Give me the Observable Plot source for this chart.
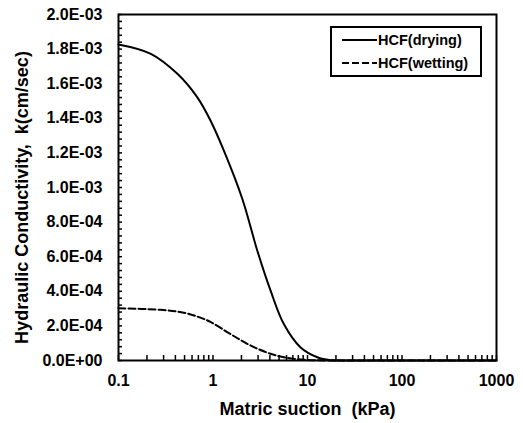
<!DOCTYPE html>
<html>
<head>
<meta charset="utf-8">
<script src="https://cdn.jsdelivr.net/npm/d3@7"></script>
<script src="https://cdn.jsdelivr.net/npm/@observablehq/plot@0.6"></script>
<style>
  html, body { margin: 0; padding: 0; background: #fff; }
  #wrap { position: relative; width: 523px; height: 423px; font-family: "Liberation Sans", Arial, sans-serif; }
  #legend { position: absolute; left: 330px; top: 26px; width: 148px; height: 47px; border: 2px solid #000; background: #fff; }
  .row { position: absolute; left: 10px; height: 20px; display: flex; align-items: center; font-weight: bold; font-size: 14.5px; color: #000; white-space: nowrap; }
  .row svg { margin-right: 1px; }
</style>
</head>
<body>
<div id="wrap"></div>
<script>
// Drying HCF: matric suction (kPa) and k (cm/sec)
const dryingSuction = [0.1, 0.22, 0.42, 0.68, 0.94, 1.3, 2.04, 2.94, 4.06, 5.6, 8.4, 12.7, 17.5, 25, 100, 1000];
const dryingK = [1.827e-3, 1.773e-3, 1.657e-3, 1.522e-3, 1.387e-3, 1.214e-3, 0.935e-3, 0.636e-3, 0.405e-3, 0.212e-3, 0.077e-3, 0.019e-3, 0.002e-3, 0, 0, 0];
// Wetting HCF
const wettingSuction = [0.1, 0.28, 0.49, 0.7, 0.94, 1.53, 2.49, 4.06, 6.1, 10, 20, 100, 1000];
const wettingK = [0.302e-3, 0.293e-3, 0.276e-3, 0.252e-3, 0.223e-3, 0.153e-3, 0.087e-3, 0.039e-3, 0.015e-3, 0.003e-3, 0, 0, 0];
// Tick labels
const xTickValues = [0.1, 1, 10, 100, 1000];
const yTickValues = [0, 0.0002, 0.0004, 0.0006, 0.0008, 0.001, 0.0012, 0.0014, 0.0016, 0.0018, 0.002];
const seriesNames = ["HCF(drying)", "HCF(wetting)"];

const W = 523, H = 423;
const mL = 118, mR = 27, mT = 14, mB = 63;
const plotW = W - mL - mR, plotH = H - mT - mB;

const drying = dryingSuction.map((x, i) => ({x, y: dryingK[i]}));
const wetting = wettingSuction.map((x, i) => ({x, y: wettingK[i]}));

const xMinor = [];
for (const base of [0.1, 1, 10, 100]) for (let m = 1; m <= 9; m++) xMinor.push(+(base * m).toPrecision(3));
xMinor.push(1000);
const yMinor = d3.range(0, 51).map(i => +(i * 0.00004).toFixed(6));

function fmtE(d) {
  if (d === 0) return "0.0E+00";
  const e = Math.floor(Math.log10(d) + 1e-9);
  const m = d / Math.pow(10, e);
  return m.toFixed(1) + "E" + (e < 0 ? "-" : "+") + String(Math.abs(e)).padStart(2, "0");
}

const font = "'Liberation Sans', Arial, sans-serif";

const chart = Plot.plot({
  width: W, height: H,
  marginLeft: mL, marginRight: mR, marginTop: mT, marginBottom: mB,
  style: {fontFamily: font, background: "#fff", color: "#000"},
  x: {type: "log", domain: [0.1, 1000]},
  y: {domain: [0, 0.002]},
  marks: [
    Plot.line(drying, {x: "x", y: "y", stroke: "#000", strokeWidth: 2, curve: "catmull-rom"}),
    Plot.line(wetting, {x: "x", y: "y", stroke: "#000", strokeWidth: 2, strokeDasharray: "7,3", curve: "catmull-rom"}),
    Plot.tickY(yMinor, {y: d => d, insetRight: plotW - 4, stroke: "#000", strokeWidth: 1.5}),
    Plot.tickX(xMinor, {x: d => d, insetTop: plotH - 5, stroke: "#000", strokeWidth: 1.5}),
    Plot.axisY(yTickValues, {tickSize: 0, tickPadding: 16, tickFormat: fmtE, fontSize: 16, fontWeight: "bold", label: null}),
    Plot.axisX(xTickValues, {tickSize: 0, tickPadding: 14, tickFormat: d => String(d), fontSize: 16, fontWeight: "bold", label: null}),
    Plot.text(["Matric suction  (kPa)"], {frameAnchor: "bottom", dy: 54, fontSize: 18, fontWeight: "bold", fill: "#000"}),
    Plot.text(["Hydraulic Conductivity,  k(cm/sec)"], {frameAnchor: "left", textAnchor: "middle", dx: -96, dy: 10, rotate: -90, fontSize: 18, fontWeight: "bold", fill: "#000"}),
    Plot.frame({stroke: "#000", strokeWidth: 2})
  ]
});

const wrap = document.getElementById("wrap");
wrap.appendChild(chart);

const legend = document.createElement("div");
legend.id = "legend";
const dashes = ["none", "7,3"];
seriesNames.forEach((name, i) => {
  const row = document.createElement("div");
  row.className = "row";
  row.style.top = (2 + i * 23) + "px";
  row.innerHTML = `<svg width="35" height="4"><line x1="0" y1="2" x2="35" y2="2" stroke="#000" stroke-width="2" stroke-dasharray="${dashes[i]}"/></svg><span>${name}</span>`;
  legend.appendChild(row);
});
wrap.appendChild(legend);
</script>
</body>
</html>
